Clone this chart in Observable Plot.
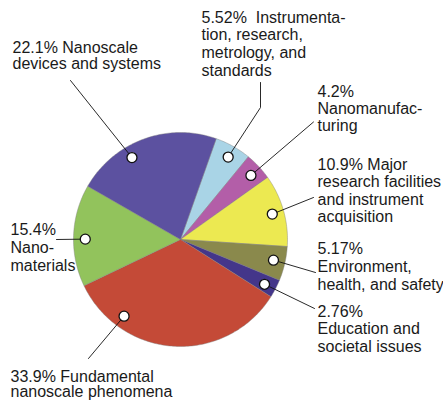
<!DOCTYPE html>
<html><head><meta charset="utf-8">
<script src="https://cdn.jsdelivr.net/npm/d3@7"></script>
<script src="https://cdn.jsdelivr.net/npm/@observablehq/plot@0.6"></script>
<style>html,body{margin:0;padding:0;background:#fff;} svg{display:block}</style>
</head><body><div id="chart"></div>
<script>
// ---- data (clockwise from the top-right) ----
const categories = [
  "Instrumentation, research, metrology, and standards",
  "Nanomanufacturing",
  "Major research facilities and instrument acquisition",
  "Environment, health, and safety",
  "Education and societal issues",
  "Fundamental nanoscale phenomena",
  "Nanomaterials",
  "Nanoscale devices and systems"
];
const shares = [5.52, 4.2, 10.9, 5.17, 2.76, 33.9, 15.4, 22.1];
const percentLabels = ["5.52%", "4.2%", "10.9%", "5.17%", "2.76%", "33.9%", "15.4%", "22.1%"];
const labelLines = [
  ["5.52%  Instrumenta-", "tion, research,", "metrology, and", "standards"],
  ["4.2%", "Nanomanufac-", "turing"],
  ["10.9% Major", "research facilities", "and instrument", "acquisition"],
  ["5.17%", "Environment,", "health, and safety"],
  ["2.76%", "Education and", "societal issues"],
  ["33.9% Fundamental", "nanoscale phenomena"],
  ["15.4%", "Nano-", "materials"],
  ["22.1% Nanoscale", "devices and systems"]
];

// ---- style / layout ----
const sliceColors = ["#a9d4e6", "#b35ea8", "#ece951", "#8a894c", "#44368a", "#c44a37", "#92c35c", "#5c51a0"];
const W = 443, H = 402, cx = 180, cy = 239, R = 107, startDeg = 19.5;
const dotFrac = [0.53, 0.55, 0.51, 0.47, 0.57, 0.77, 0.465, 0.37];
const dotRad = 0.89;
// label text: [x, first baseline, line step]
const labelPos = [
  [201, 22, 17.7], [317, 96, 17.2], [317, 169, 17.5], [317, 253.5, 17.8],
  [317, 316, 17.9], [10, 381, 15.5], [10, 234, 18], [12, 52, 16.5]
];
// leader line end points (label side), outermost first
const leaderEnds = [
  [[260, 82], [260, 107]], [[313, 121.5]], [[313, 197]], [[315, 272]],
  [[314, 308]], [[88, 358]], [[56, 239]], [[70, 80]]
];

const rad = Math.PI / 180;
const pie = d3.pie().sort(null).value(d => d)
  .startAngle(startDeg * rad).endAngle(startDeg * rad + 2 * Math.PI);
const arcs = pie(shares);
const pt = (a, r) => [cx + r * Math.sin(a), cy - r * Math.cos(a)];

const slicePts = [];
arcs.forEach((a, i) => {
  const k = categories[i];
  slicePts.push({k, x: cx, y: cy});
  const n = Math.max(4, Math.ceil((a.endAngle - a.startAngle) / rad));
  for (let j = 0; j <= n; j++) {
    const [x, y] = pt(a.startAngle + (a.endAngle - a.startAngle) * j / n, R);
    slicePts.push({k, x, y});
  }
  slicePts.push({k, x: cx, y: cy});
});

const dots = arcs.map((a, i) => {
  const [x, y] = pt(a.startAngle + (a.endAngle - a.startAngle) * dotFrac[i], R * dotRad);
  return {k: categories[i], x, y};
});

const leaders = [];
dots.forEach((d, i) => {
  const ends = leaderEnds[i];
  for (const [x, y] of ends) leaders.push({k: d.k, x, y});
  leaders.push({k: d.k, x: d.x, y: d.y});
});

const textRows = [];
labelLines.forEach((lines, i) => {
  const [x, y0, step] = labelPos[i];
  lines.forEach((t, j) => textRows.push({t, x, y: y0 + j * step}));
});

const chart = Plot.plot({
  width: W, height: H,
  margin: 0,
  x: {domain: [0, W], range: [0, W], axis: null},
  y: {domain: [0, H], range: [0, H], axis: null},
  color: {domain: categories, range: sliceColors},
  style: {fontFamily: "'Liberation Sans', Arial, sans-serif", background: "#fff"},
  marks: [
    Plot.line(slicePts, {x: "x", y: "y", z: "k", fill: "k", stroke: "#7d7d7d", strokeWidth: 0.6, strokeOpacity: 0.7, strokeLinejoin: "round"}),
    Plot.line(leaders, {x: "x", y: "y", z: "k", stroke: "#111", strokeWidth: 0.9}),
    Plot.dot(dots, {x: "x", y: "y", r: 5, fill: "white", stroke: "#111", strokeWidth: 1.3}),
    Plot.text(textRows, {x: "x", y: "y", text: "t", textAnchor: "start", lineAnchor: "bottom", fontSize: 16, fill: "#1a1a1a"})
  ]
});
document.getElementById("chart").appendChild(chart);
</script>
</body></html>
